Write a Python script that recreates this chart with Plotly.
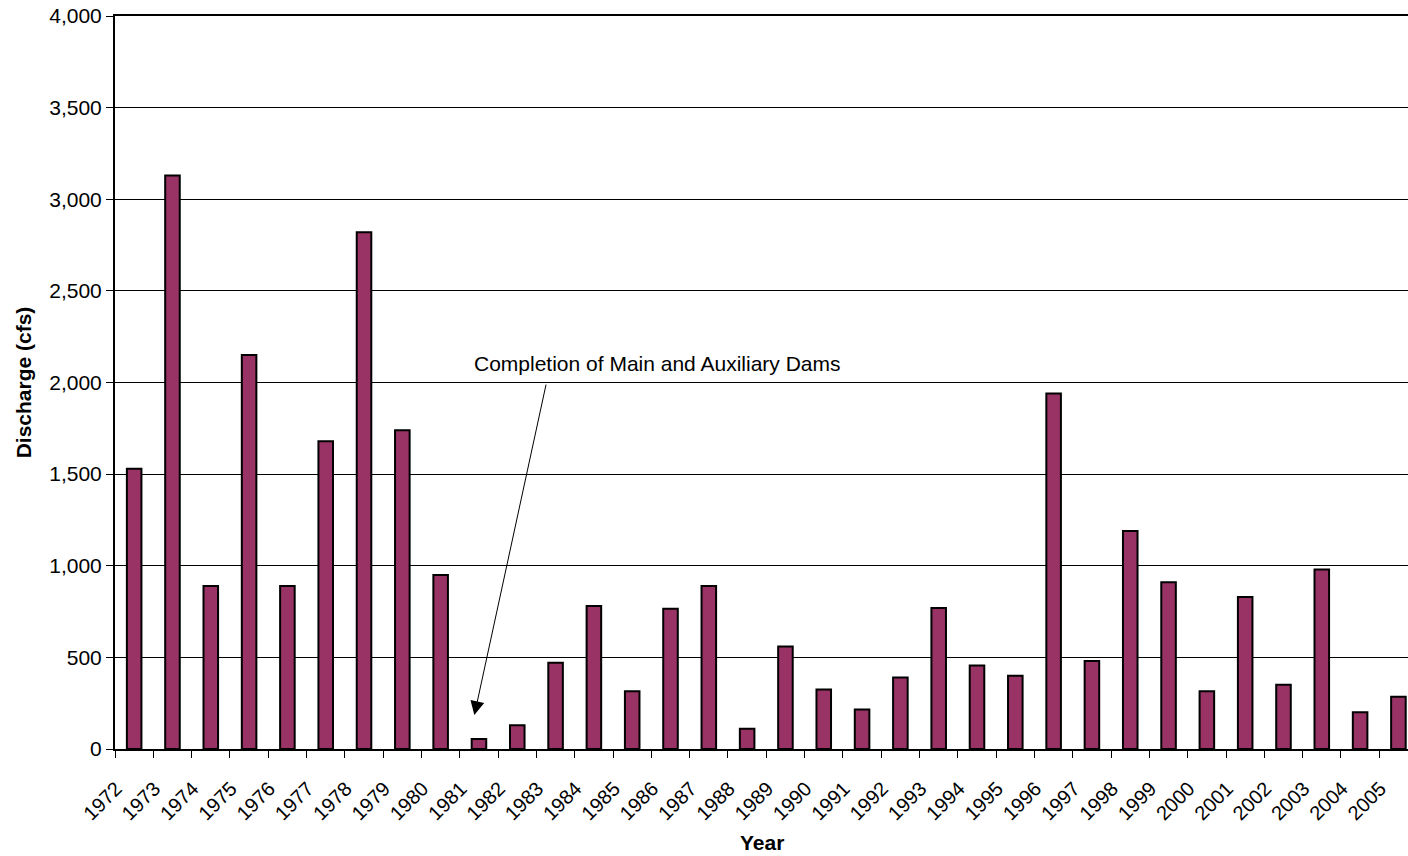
import plotly.graph_objects as go

years = [str(y) for y in range(1972, 2006)]
discharge = [1530, 3130, 890, 2150, 890, 1680, 2820, 1740, 950, 55,
             130, 470, 780, 315, 765, 890, 110, 560, 325, 215,
             390, 770, 455, 400, 1940, 480, 1190, 910, 315, 830,
             350, 980, 200, 285]

y_ticks = [0, 500, 1000, 1500, 2000, 2500, 3000, 3500, 4000]

annotation_text = "Completion of Main and Auxiliary Dams"
x_title = "Year"
y_title = "Discharge (cfs)"

FONT = "Liberation Sans, Arial, sans-serif"

fig = go.Figure()
fig.add_trace(go.Bar(
    x=years, y=discharge, width=0.38,
    marker=dict(color="#993366", line=dict(color="black", width=2)),
    showlegend=False,
))

fig.add_annotation(
    x=13.66, y=2101, xref="x", yref="y", text=annotation_text,
    showarrow=False, font=dict(family=FONT, size=21, color="black"),
)
fig.add_annotation(
    x=8.88, y=185, xref="x", yref="y", text="",
    showarrow=True, arrowhead=2, arrowsize=2.8, arrowwidth=1,
    arrowcolor="black", ax=72, ay=-332,
)
fig.add_annotation(
    x=0.5, y=-0.1269, xref="paper", yref="paper", text=f"<b>{x_title}</b>",
    showarrow=False, yanchor="middle", xanchor="center",
    font=dict(family=FONT, size=21, color="black"),
)

fig.update_layout(
    width=1408, height=856,
    margin=dict(l=115, r=0, t=16, b=107, autoexpand=False),
    paper_bgcolor="white", plot_bgcolor="white",
    font=dict(family=FONT, size=20, color="black"),
    bargap=0.6,
    xaxis=dict(
        type="category", range=[-0.5, 33.25], automargin=False,
        showline=True, linecolor="black", linewidth=2, mirror=True,
        ticks="outside", tickson="boundaries", ticklen=7, tickwidth=1,
        tickcolor="black", tickangle=-45, showgrid=False,
        ticklabelshift=-18, ticklabelstandoff=18,
        tickfont=dict(family=FONT, size=20),
    ),
    yaxis=dict(
        range=[0, 4000], tickvals=y_ticks, tickformat=",", automargin=False,
        ticklabeloverflow="allow",
        showline=True, linecolor="black", linewidth=2,
        ticks="outside", ticklen=7, tickwidth=1, tickcolor="black",
        showgrid=True, gridcolor="black", gridwidth=1, zeroline=False,
        tickfont=dict(family=FONT, size=21),
        title=dict(text=f"<b>{y_title}</b>", font=dict(family=FONT, size=21), standoff=12),
    ),
)

fig.write_html(
    "out.html",
    config={"displayModeBar": False},
    post_script="document.body.style.margin='0';document.body.style.overflow='hidden';",
)
